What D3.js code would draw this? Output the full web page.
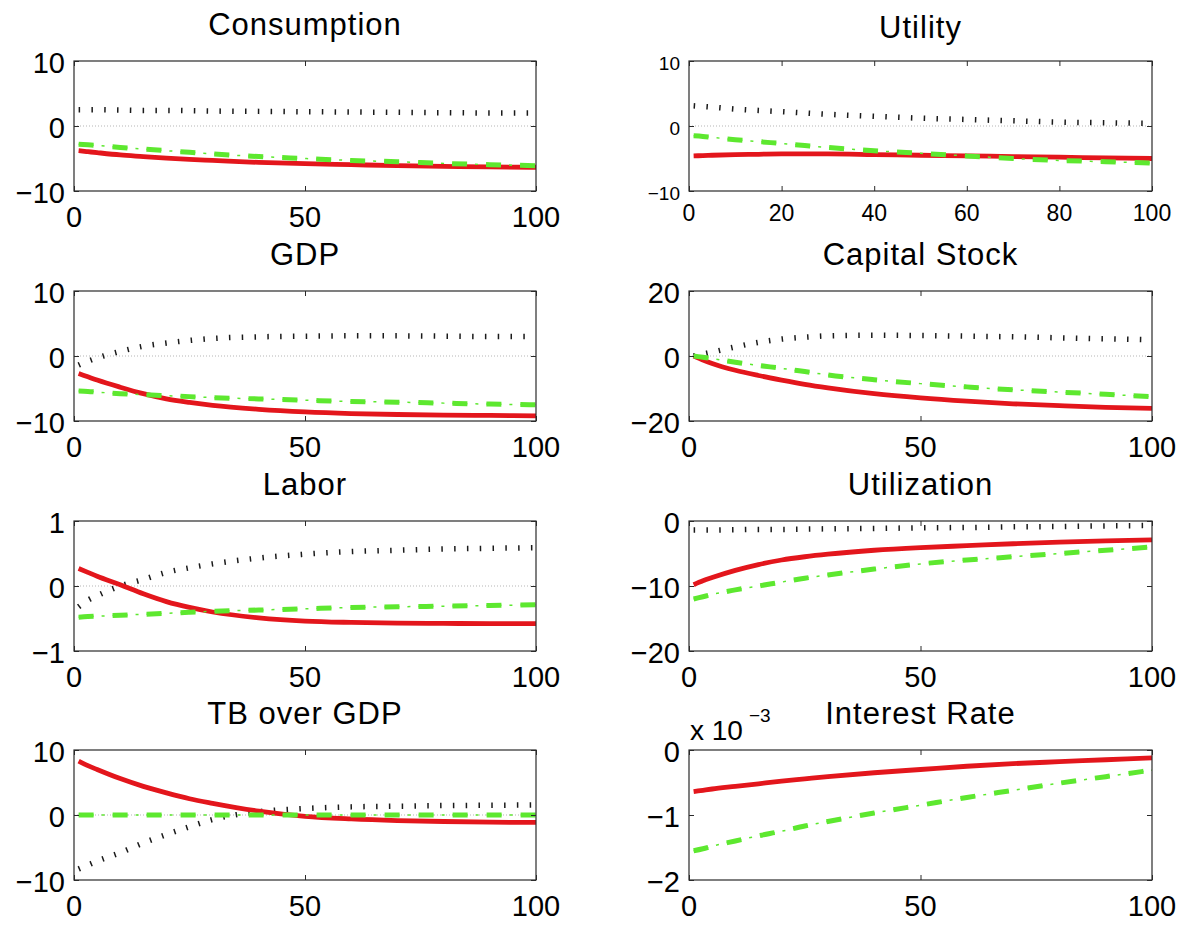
<!DOCTYPE html>
<html>
<head>
<meta charset="utf-8">
<script src="https://cdn.jsdelivr.net/npm/d3@7"></script>
<style>
  html, body { margin: 0; padding: 0; background: #fff; }
  svg { display: block; font-family: "Liberation Sans", Arial, Helvetica, sans-serif; }
</style>
</head>
<body>
<svg id="chart" width="1188" height="926"></svg>
<script>
// ---------- data ----------
const periods = [1, 3, 5, 10, 15, 20, 25, 30, 40, 50, 60, 70, 80, 90, 100];

const panelTitles = ["Consumption", "Utility", "GDP", "Capital Stock", "Labor", "Utilization", "TB over GDP", "Interest Rate"];

const yTickValues = [
  [-10, 0, 10], [-10, 0, 10], [-10, 0, 10], [-20, 0, 20],
  [-1, 0, 1], [-20, -10, 0], [-10, 0, 10], [-2, -1, 0]
];
const xTickValues = [
  [0, 50, 100], [0, 20, 40, 60, 80, 100], [0, 50, 100], [0, 50, 100],
  [0, 50, 100], [0, 50, 100], [0, 50, 100], [0, 50, 100]
];
const interestRateExponent = "\u22123"; // axis multiplier x 10^-3

// solid red series
const consumptionRed = [-3.8, -3.95, -4.1, -4.45, -4.7, -4.95, -5.15, -5.3, -5.6, -5.8, -5.95, -6.1, -6.2, -6.3, -6.35];
const utilityRed     = [-4.6, -4.55, -4.5, -4.4, -4.35, -4.3, -4.3, -4.3, -4.4, -4.5, -4.6, -4.7, -4.8, -4.9, -5.0];
const gdpRed         = [-2.7, -3.2, -3.7, -4.8, -5.8, -6.6, -7.15, -7.6, -8.2, -8.6, -8.85, -9.0, -9.1, -9.15, -9.2];
const capitalRed     = [0, -1.2, -2.3, -4.4, -6.0, -7.4, -8.7, -9.8, -11.6, -12.9, -13.9, -14.7, -15.3, -15.8, -16.1];
const laborRed       = [0.27, 0.21, 0.15, 0.02, -0.12, -0.24, -0.33, -0.40, -0.49, -0.54, -0.56, -0.57, -0.575, -0.58, -0.58];
const utilizationRed = [-9.8, -9.2, -8.7, -7.6, -6.7, -6.0, -5.5, -5.1, -4.5, -4.1, -3.8, -3.5, -3.25, -3.05, -2.9];
const tbRed          = [8.3, 7.6, 7.0, 5.6, 4.4, 3.4, 2.5, 1.8, 0.6, -0.2, -0.6, -0.85, -1.0, -1.1, -1.15];
const interestRed    = [-0.64, -0.62, -0.60, -0.56, -0.52, -0.48, -0.445, -0.41, -0.35, -0.30, -0.25, -0.21, -0.18, -0.15, -0.12];

// dash-dot green series
const consumptionGreen = [-2.8, -2.9, -3.0, -3.3, -3.55, -3.8, -4.05, -4.3, -4.7, -5.0, -5.3, -5.5, -5.75, -5.95, -6.1];
const utilityGreen     = [-1.5, -1.6, -1.75, -2.1, -2.4, -2.7, -3.0, -3.3, -3.8, -4.2, -4.6, -5.0, -5.3, -5.5, -5.7];
const gdpGreen         = [-5.4, -5.45, -5.55, -5.8, -5.95, -6.1, -6.25, -6.4, -6.6, -6.8, -7.0, -7.1, -7.25, -7.4, -7.5];
const capitalGreen     = [0, -0.4, -0.8, -1.9, -2.9, -3.8, -4.8, -5.8, -7.3, -8.5, -9.5, -10.4, -11.1, -11.8, -12.5];
const laborGreen       = [-0.48, -0.47, -0.465, -0.45, -0.435, -0.42, -0.405, -0.39, -0.37, -0.35, -0.33, -0.32, -0.31, -0.30, -0.29];
const utilizationGreen = [-12.0, -11.65, -11.3, -10.6, -10.0, -9.4, -8.8, -8.3, -7.4, -6.6, -6.0, -5.5, -5.0, -4.5, -4.0];
const tbGreen          = [0, 0, 0, 0, 0, 0, 0, 0, 0, 0, 0, 0, 0, 0, 0];
const interestGreen    = [-1.55, -1.52, -1.48, -1.40, -1.32, -1.25, -1.17, -1.10, -0.97, -0.85, -0.73, -0.62, -0.51, -0.41, -0.31];

// dotted black series
const consumptionBlack = [2.5, 2.5, 2.5, 2.45, 2.4, 2.4, 2.35, 2.3, 2.25, 2.2, 2.15, 2.1, 2.05, 2.0, 2.0];
const utilityBlack     = [3.1, 3.0, 2.9, 2.6, 2.4, 2.2, 2.0, 1.8, 1.5, 1.2, 1.0, 0.8, 0.6, 0.5, 0.4];
const gdpBlack         = [-1.4, -0.8, -0.3, 0.7, 1.5, 2.0, 2.4, 2.7, 2.95, 3.05, 3.1, 3.1, 3.05, 3.0, 3.0];
const capitalBlack     = [0, 0.6, 1.2, 2.8, 4.2, 5.2, 5.8, 6.2, 6.4, 6.3, 6.1, 5.9, 5.6, 5.3, 5.0];
const laborBlack       = [-0.32, -0.22, -0.15, 0.0, 0.1, 0.21, 0.28, 0.34, 0.43, 0.49, 0.53, 0.55, 0.57, 0.58, 0.59];
const utilizationBlack = [-1.4, -1.4, -1.4, -1.35, -1.3, -1.3, -1.25, -1.2, -1.15, -1.05, -1.0, -0.9, -0.85, -0.75, -0.7];
const tbBlack          = [-8.3, -7.7, -7.1, -5.8, -4.3, -3.0, -1.8, -0.7, 0.5, 1.0, 1.25, 1.35, 1.45, 1.5, 1.55];
const interestBlack    = null;

const redSeries   = [consumptionRed, utilityRed, gdpRed, capitalRed, laborRed, utilizationRed, tbRed, interestRed];
const greenSeries = [consumptionGreen, utilityGreen, gdpGreen, capitalGreen, laborGreen, utilizationGreen, tbGreen, interestGreen];
const blackSeries = [consumptionBlack, utilityBlack, gdpBlack, capitalBlack, laborBlack, utilizationBlack, tbBlack, interestBlack];

// ---------- layout ----------
const colLeft = [74, 689];
const colWidth = [462, 463];
const rowTop = [61, 291, 521, 750];
const boxH = 130;
const RED = "#e3161c", GREEN = "#5de82f", BLACK = "#1a1a1a";

const svg = d3.select("#chart");
const fmt = v => (v < 0 ? "\u2212" + Math.abs(v) : String(v));

panelTitles.forEach((title, i) => {
  const col = i % 2, row = Math.floor(i / 2);
  const x0 = colLeft[col], w = colWidth[col], y0 = rowTop[row], h = boxH;
  const isUtility = i === 1;
  const yt = yTickValues[i];
  const xs = d3.scaleLinear().domain([0, 100]).range([x0, x0 + w]);
  const ys = d3.scaleLinear().domain([yt[0], yt[yt.length - 1]]).range([y0 + h, y0]);

  const g = svg.append("g");
  const clipId = "clip" + i;
  svg.append("clipPath").attr("id", clipId).append("rect")
    .attr("x", x0).attr("y", y0 - 2).attr("width", w).attr("height", h + 4);

  // zero reference line
  if (ys.domain()[0] < 0 && ys.domain()[1] > 0) {
    g.append("line").attr("x1", xs(0)).attr("x2", xs(100))
      .attr("y1", ys(0)).attr("y2", ys(0))
      .attr("stroke", "#b5b5b5").attr("stroke-width", 1).attr("stroke-dasharray", "1,2");
  }

  const line = d3.line().x((d, k) => xs(periods[k])).y(d => ys(d)).curve(d3.curveMonotoneX);
  const plot = g.append("g").attr("clip-path", `url(#${clipId})`);

  if (blackSeries[i]) {
    plot.append("path").attr("d", line(blackSeries[i])).attr("fill", "none")
      .attr("stroke", BLACK).attr("stroke-width", 5.5).attr("stroke-dasharray", "1.5,11.3");
  }
  plot.append("path").attr("d", line(redSeries[i])).attr("fill", "none")
    .attr("stroke", RED).attr("stroke-width", 4.8).attr("stroke-linejoin", "round");
  plot.append("path").attr("d", line(greenSeries[i])).attr("fill", "none")
    .attr("stroke", GREEN).attr("stroke-width", 1.5).attr("stroke-dasharray", "15,8,3,8");
  plot.append("path").attr("d", line(greenSeries[i])).attr("fill", "none")
    .attr("stroke", GREEN).attr("stroke-width", 5).attr("stroke-dasharray", "15,19");

  // axes box
  g.append("rect").attr("x", x0).attr("y", y0).attr("width", w).attr("height", h)
    .attr("fill", "none").attr("stroke", "#2a2a2a").attr("stroke-width", 1.2);

  // ticks via d3 axes (inward, mirrored)
  const tl = 5;
  const axB = d3.axisBottom(xs).tickValues(xTickValues[i]).tickSize(-tl).tickFormat("");
  const axT = d3.axisTop(xs).tickValues(xTickValues[i]).tickSize(-tl).tickFormat("");
  const axL = d3.axisLeft(ys).tickValues(yt).tickSize(-tl).tickFormat("");
  const axR = d3.axisRight(ys).tickValues(yt).tickSize(-tl).tickFormat("");
  [[axB, `translate(0,${y0 + h})`], [axT, `translate(0,${y0})`],
   [axL, `translate(${x0},0)`], [axR, `translate(${x0 + w},0)`]].forEach(([ax, tr]) => {
    const a = g.append("g").attr("transform", tr).call(ax);
    a.select(".domain").remove();
    a.selectAll("line").attr("stroke", "#2a2a2a").attr("stroke-width", 1);
  });

  // tick labels
  const yFs = isUtility ? 19 : 29;
  const xFs = isUtility ? 23 : 29;
  g.selectAll(".ylab").data(yt).join("text")
    .attr("x", x0 - 9).attr("y", d => ys(d) + yFs * 0.36 + 2)
    .attr("text-anchor", "end").attr("font-size", yFs).attr("fill", "#000")
    .text(fmt);
  g.selectAll(".xlab").data(xTickValues[i]).join("text")
    .attr("x", d => xs(d)).attr("y", y0 + h + (isUtility ? 30 : 36))
    .attr("text-anchor", "middle").attr("font-size", xFs).attr("fill", "#000")
    .text(fmt);

  // title
  svg.append("text").attr("x", x0 + w / 2).attr("y", y0 - (isUtility ? 23 : 26))
    .attr("text-anchor", "middle").attr("font-size", 31).attr("letter-spacing", 1)
    .attr("fill", "#000").text(title);

  // exponent multiplier
  if (i === 7) {
    svg.append("text").attr("x", x0 + 1).attr("y", y0 - 10)
      .attr("font-size", 28).attr("fill", "#000").text("x 10");
    svg.append("text").attr("x", x0 + 60).attr("y", y0 - 28)
      .attr("font-size", 19).attr("fill", "#000").text(interestRateExponent);
  }
});
</script>
</body>
</html>
